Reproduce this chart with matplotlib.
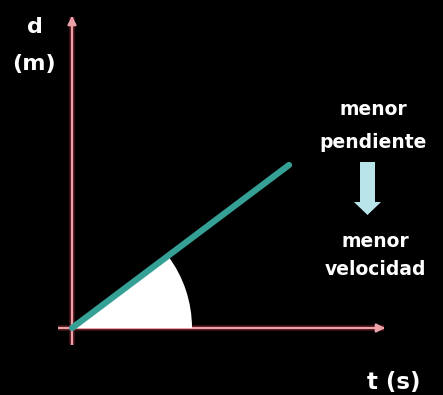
import numpy as np
import matplotlib
matplotlib.use("Agg")
import matplotlib.pyplot as plt
from matplotlib.patches import Wedge

# position-time line (origin at the axes crossing)
t_vals = [0, 217]
d_vals = [0, 163]
angle_radius = 120

axis_label_x = "t (s)"
axis_label_y = ["d", "(m)"]
note_top = ["menor", "pendiente"]
note_bottom = ["menor", "velocidad"]

fig = plt.figure(figsize=(4.43, 3.95), dpi=100, facecolor="black")
ax = fig.add_axes([0, 0, 1, 1])
ax.set_facecolor("black")
ax.set_xlim(-72, 371)
ax.set_ylim(-67, 328)
ax.axis("off")

axis_col = "#eaa2a8"
glow_col = "#7a1f28"

# axes with arrowheads (glow underneath)
for xs, ys in [([-14, 312], [0, 0]), ([0, 0], [-17, 311])]:
    ax.plot(xs, ys, color=glow_col, lw=4, alpha=0.6, solid_capstyle="butt", zorder=1)
    ax.plot(xs, ys, color=axis_col, lw=1.6, solid_capstyle="butt", zorder=2)
ax.annotate("", xy=(316, 0), xytext=(300, 0),
            arrowprops=dict(arrowstyle="-|>,head_length=0.5,head_width=0.25",
                            color=axis_col, lw=1.6), zorder=2)
ax.annotate("", xy=(0, 315), xytext=(0, 300),
            arrowprops=dict(arrowstyle="-|>,head_length=0.5,head_width=0.25",
                            color=axis_col, lw=1.6), zorder=2)

# angle wedge
ang = np.degrees(np.arctan2(d_vals[1], t_vals[1]))
ax.add_patch(Wedge((0, 0), angle_radius, 0, ang, facecolor="white",
                   edgecolor="none", zorder=3))

# the line
ax.plot(t_vals, d_vals, color="#35a096", lw=4.5, solid_capstyle="round", zorder=4)

# labels
font = dict(family="DejaVu Sans", color="white", fontweight="bold")
ax.text(-37, 295, axis_label_y[0], ha="center", va="baseline", fontsize=16, **font)
ax.text(-38, 258, axis_label_y[1], ha="center", va="baseline", fontsize=16, **font)
ax.text(322, -61, axis_label_x, ha="center", va="baseline", fontsize=16.5, **font)

ax.text(301, 213, note_top[0], ha="center", va="baseline", fontsize=13.5, **font)
ax.text(301, 180, note_top[1], ha="center", va="baseline", fontsize=13.5, **font)
ax.text(303, 81, note_bottom[0], ha="center", va="baseline", fontsize=13.5, **font)
ax.text(303, 53, note_bottom[1], ha="center", va="baseline", fontsize=13.5, **font)

# down arrow between the notes
ax.arrow(295.5, 166, 0, -40, width=15, head_width=27, head_length=13,
         length_includes_head=False, facecolor="#b9e4ea", edgecolor="none", zorder=3)

fig.savefig("out.png", dpi=100, facecolor="black")
